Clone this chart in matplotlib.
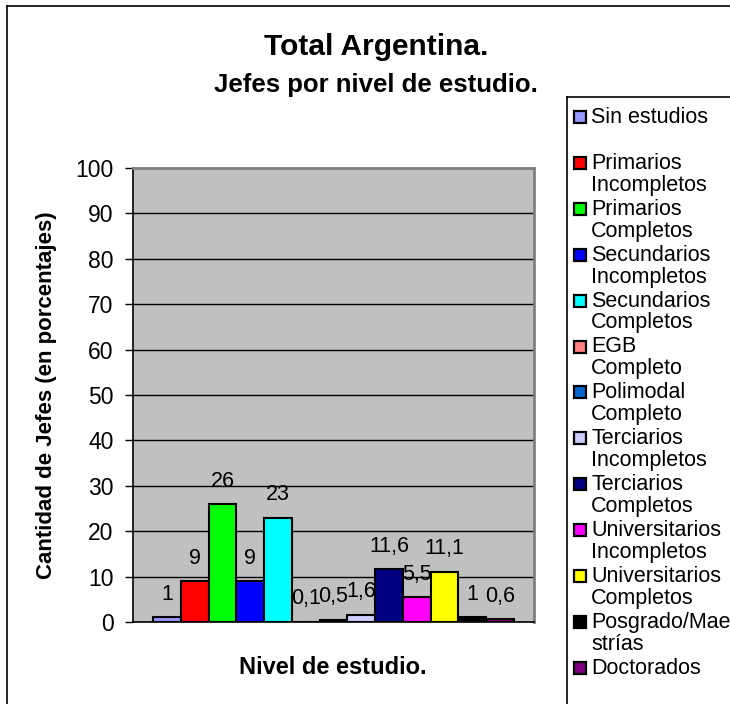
import matplotlib
matplotlib.use("Agg")
import matplotlib.pyplot as plt
from matplotlib.patches import Rectangle
from matplotlib.lines import Line2D

plt.rcParams['font.family'] = ['Liberation Sans', 'DejaVu Sans']

categorias = ["Sin estudios", "Primarios\nIncompletos", "Primarios\nCompletos",
              "Secundarios\nIncompletos", "Secundarios\nCompletos", "EGB\nCompleto",
              "Polimodal\nCompleto", "Terciarios\nIncompletos", "Terciarios\nCompletos",
              "Universitarios\nIncompletos", "Universitarios\nCompletos",
              "Posgrado/Mae\nstrías", "Doctorados"]
valores = [1, 9, 26, 9, 23, 0.1, 0.5, 1.6, 11.6, 5.5, 11.1, 1, 0.6]
colores = ["#9999FF", "#FF0000", "#00FF00", "#0000FF", "#00FFFF", "#FF8080",
           "#0066CC", "#CCCCFF", "#000080", "#FF00FF", "#FFFF00", "#000000", "#800080"]
yticks = list(range(0, 101, 10))

W, H = 730, 704
fig = plt.figure(figsize=(W / 100, H / 100), dpi=100)

def fx(x):
    return x / W

def fy(y):
    return 1 - y / H

# plot area (pixels: left 133, right 534, top 168, bottom 622)
ax = fig.add_axes([fx(133), fy(622), fx(534 - 133), (622 - 168) / H])
ax.set_facecolor("#C0C0C0")

x = list(range(len(valores)))
bars = ax.bar(x, valores, width=1.0, color=colores, edgecolor="black", linewidth=1.5, zorder=3)
for xi, v in zip(x, valores):
    ax.annotate(f"{v:g}".replace(".", ","), (xi, v), xytext=(0, 16.5),
                textcoords="offset points", ha="center", va="center", fontsize=15.5, zorder=4)

ax.set_xlim(-1.22, 13.22)
ax.set_ylim(0, 100)
ax.set_yticks(yticks)
ax.set_xticks([])
ax.yaxis.grid(True, color="black", linewidth=1.0, zorder=1)
ax.set_axisbelow(True)
ax.tick_params(axis="y", direction="out", length=6, width=1, labelsize=16.5, pad=8)
for s in ["top", "right"]:
    ax.spines[s].set_color("#808080")
    ax.spines[s].set_linewidth(2)
for s in ["left", "bottom"]:
    ax.spines[s].set_color("black")
    ax.spines[s].set_linewidth(1.2)

fig.text(fx(47), fy(395), "Cantidad de Jefes (en porcentajes)", rotation=90,
         ha="center", va="center", fontsize=16, fontweight="bold")
fig.text(fx(333), fy(667), "Nivel de estudio.", ha="center", va="center",
         fontsize=17, fontweight="bold")
fig.text(fx(376), fy(47), "Total Argentina.", ha="center", va="center",
         fontsize=21.5, fontweight="bold")
fig.text(fx(376), fy(85), "Jefes por nivel de estudio.", ha="center", va="center",
         fontsize=18.5, fontweight="bold")

# outer chart border (left and top only visible)
fig.add_artist(Line2D([fx(7), fx(7)], [fy(6), 0], color="black", linewidth=1.2))
fig.add_artist(Line2D([fx(7), 1], [fy(6), fy(6)], color="black", linewidth=1.2))

# legend box
fig.add_artist(Line2D([fx(567), fx(567)], [fy(97), 0], color="black", linewidth=1.2))
fig.add_artist(Line2D([fx(567), 1], [fy(97), fy(97)], color="black", linewidth=1.2))
for i, (lab, col) in enumerate(zip(categorias, colores)):
    yc = 117 + 45.9 * i
    fig.add_artist(Rectangle((fx(574), fy(yc + 6)), fx(12), 12 / H, facecolor=col,
                             edgecolor="black", linewidth=1.6, transform=fig.transFigure))
    fig.text(fx(591), fy(yc - 10), lab, ha="left", va="top", fontsize=15.5,
             linespacing=1.05)

fig.savefig("out.png", dpi=100)
